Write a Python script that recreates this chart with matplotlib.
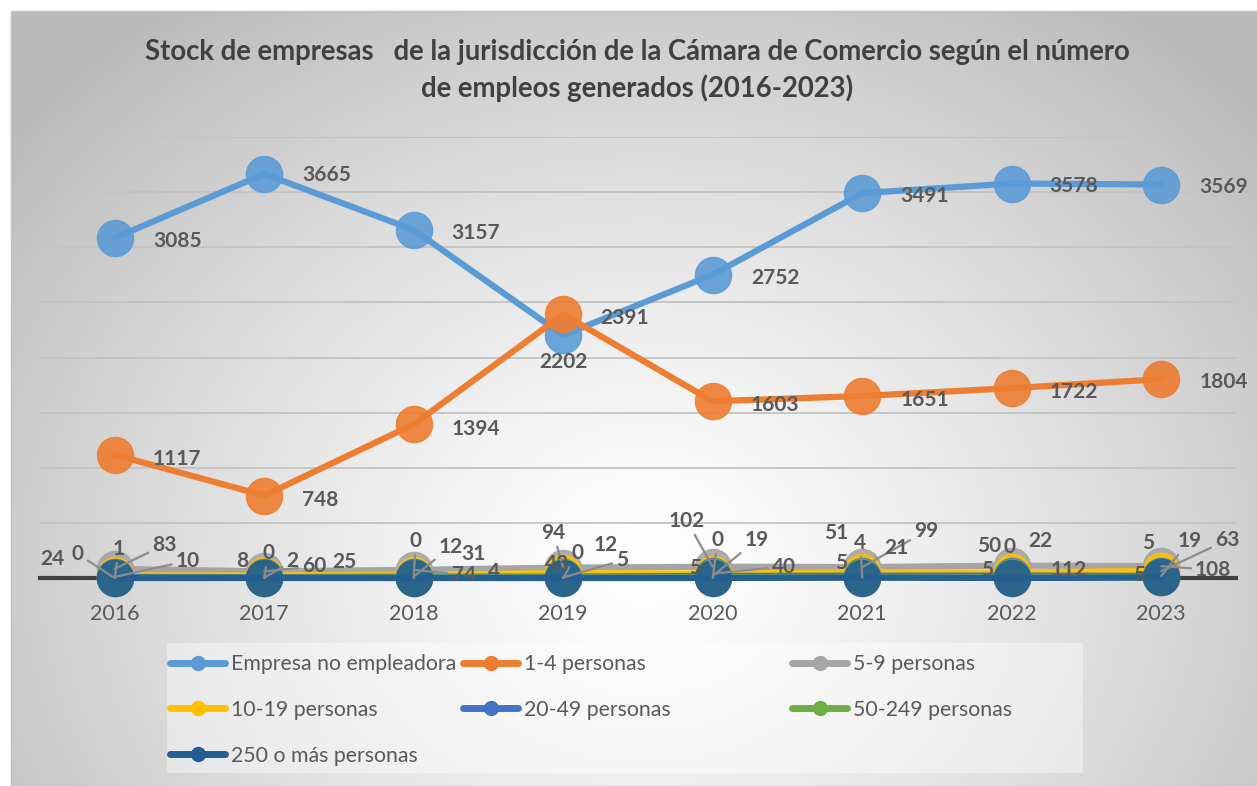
import numpy as np
import matplotlib
matplotlib.use("Agg")
import matplotlib.pyplot as plt
from matplotlib.patches import Rectangle

# ---------------- data ----------------
years = ["2016", "2017", "2018", "2019", "2020", "2021", "2022", "2023"]
series_names = ["Empresa no empleadora", "1-4 personas", "5-9 personas",
                "10-19 personas", "20-49 personas", "50-249 personas",
                "250 o más personas"]
no_empleadora = [3085, 3665, 3157, 2202, 2752, 3491, 3578, 3569]
p1_4 = [1117, 748, 1394, 2391, 1603, 1651, 1722, 1804]
p5_9 = [83, 60, 74, 94, 102, 99, 112, 108]
p10_19 = [24, 25, 31, 43, 40, 51, 50, 63]
p20_49 = [10, 8, 12, 12, 19, 21, 22, 19]
p50_249 = [1, 2, 4, 5, 5, 5, 5, 5]
p250 = [0, 0, 0, 0, 0, 4, 0, 5]
title_line1 = "Stock de empresas   de la jurisdicción de la Cámara de Comercio según el número"
title_line2 = "de empleos generados (2016-2023)"

# ---------------- style ----------------
colors = ["#5B9BD5", "#ED7D31", "#A5A5A5", "#FFC000", "#4472C4", "#70AD47", "#255E91"]
FONT = "Lato"
TXT = "#595959"
W, H = 1257, 786

# label placement for the big series (pixels, x right / y down)
big_offsets = [
    [(38, 3), (38, 1), (38, 3), (0, 27), (38, 3), (38, 3), (38, 2), (38, 2)],
    [(38, 4), (38, 4), (38, 5), (37, 4), (38, 4), (38, 4), (38, 4), (38, 3)],
]

# small-series label offsets: (dx, dy, leader) per series (index 2..6) and year
small_offsets = {
    2: [(50, -24, 1), (50, -5, 1), (50, 5, 1), (-10, -35, 1), (-26, -46, 1), (64, -36, 1), (57, 4, 0), (52, 4, 1)],
    3: [(-62, -16, 0), (80, -13, 0), (60, -21, 0), (-6, -9, 0), (71, -7, 1), (-26, -39, 0), (-23, -26, 0), (66, -31, 1)],
    4: [(73, -16, 1), (-22, -16, 0), (37, -30, 1), (42, -32, 0), (44, -36, 1), (34, -28, 0), (29, -35, 0), (28, -35, 1)],
    5: [(4, -29, 1), (28, -17, 1), (80, -6, 0), (59, -17, 1), (-18, -9, 0), (-21, -14, 0), (-25, -7, 0), (-22, -2, 0)],
    6: [(-37, -24, 1), (4, -25, 1), (2, -37, 1), (14, -25, 1), (5, -38, 1), (-2, -35, 1), (-2, -31, 0), (-13, -34, 0)],
}

fig = plt.figure(figsize=(W / 100, H / 100), dpi=100)
fig.patch.set_facecolor("white")

# background gradient (chart area)
bg = fig.add_axes([0, 0, 1, 1], zorder=-10)
bg.set_xlim(0, W)
bg.set_ylim(H, 0)
bg.axis("off")
yy, xx = np.mgrid[0:H, 0:W]
d = np.sqrt(((xx - 640) / 820.0) ** 2 + ((yy - 560) / 700.0) ** 2)
d = np.clip(d, 0, 1)
light = 1.0 - 0.27 * d ** 1.3
img = np.dstack([light, light, light])
bg.imshow(img, extent=(11, W, H, 11), aspect="auto", interpolation="bilinear")
bg.add_patch(Rectangle((11, 11), W - 11, H - 11, fill=False, edgecolor="#bfbfbf", lw=1))
# legend background
bg.add_patch(Rectangle((167, 643), 1083 - 167, 773 - 643, facecolor="white", alpha=0.4,
                       edgecolor="none"))

title_kw = dict(ha="center", va="center", fontsize=19.8, fontweight="bold",
                color="#404040", family=FONT)
fig.text(637 / W, 1 - 52 / H, title_line1, **title_kw)
fig.text(637 / W, 1 - 88 / H, title_line2, **title_kw)

ax = fig.add_axes([40 / W, 1 - 578 / H, (1236 - 40) / W, (578 - 137) / H])
ax.set_facecolor("none")
ax.set_xlim(-0.5, len(years) - 0.5)
ax.set_ylim(0, 4000)
ax.set_yticks(np.arange(500, 4001, 500))
ax.set_yticklabels([])
ax.tick_params(axis="y", length=0)
ax.grid(axis="y", color="#c3c3c3", lw=1.3)
ax.set_axisbelow(True)
for s in ["top", "right", "left"]:
    ax.spines[s].set_visible(False)
ax.spines["bottom"].set_color("#404040")
ax.spines["bottom"].set_linewidth(3)
ax.spines["bottom"].set_zorder(1.5)
x = np.arange(len(years))
ax.set_xticks(x)
ax.set_xticklabels(years, fontsize=15.5, color=TXT, family=FONT)
ax.tick_params(axis="x", length=0, pad=19)

all_series = [no_empleadora, p1_4, p5_9, p10_19, p20_49, p50_249, p250]
handles = []
for k, (vals, c) in enumerate(zip(all_series, colors)):
    z = 3 + k
    ax.plot(x, vals, color=c, lw=4.5, solid_capstyle="round", zorder=z, clip_on=False)
    ax.plot(x, vals, ls="none", marker="o", ms=26, color=c, mec=c, alpha=0.9,
            zorder=z, clip_on=False)
    h, = ax.plot([], [], color=c, lw=5, marker="o", ms=10, label=series_names[k],
                 solid_capstyle="round")
    handles.append(h)

lab_kw = dict(fontsize=15, fontweight="bold", color=TXT, family=FONT,
              textcoords="offset pixels", zorder=20, annotation_clip=False)
for k in range(2):
    for i, v in enumerate(all_series[k]):
        dx, dy = big_offsets[k][i]
        ha = "center" if dx == 0 else "left"
        ax.annotate(str(v), (i, v), xytext=(dx, -dy), ha=ha, va="center", **lab_kw)

for k in range(2, 7):
    for i, v in enumerate(all_series[k]):
        dx, dy, lead = small_offsets[k][i]
        kw = dict(lab_kw)
        if lead:
            kw["arrowprops"] = dict(arrowstyle="-", color="#8c8c8c", lw=1.6,
                                    shrinkA=1, shrinkB=0)
        ax.annotate(str(v), (i, v), xytext=(dx, -dy), ha="center", va="center", **kw)

# legend (three columns placed individually, Excel row-first order)
cols = [[0, 3, 6], [1, 4], [2, 5]]
col_x = [170, 463, 792]
for cx, idx in zip(col_x, cols):
    lg = fig.legend([handles[j] for j in idx], [series_names[j] for j in idx],
                    loc="upper left", bbox_to_anchor=(cx / W, 1 - 654 / H),
                    frameon=False, handlelength=2.6, handletextpad=0.25,
                    labelspacing=1.22, borderpad=0, borderaxespad=0,
                    prop={"family": FONT, "size": 15.3})
    for t in lg.get_texts():
        t.set_color(TXT)

fig.savefig("out.png", dpi=100)
